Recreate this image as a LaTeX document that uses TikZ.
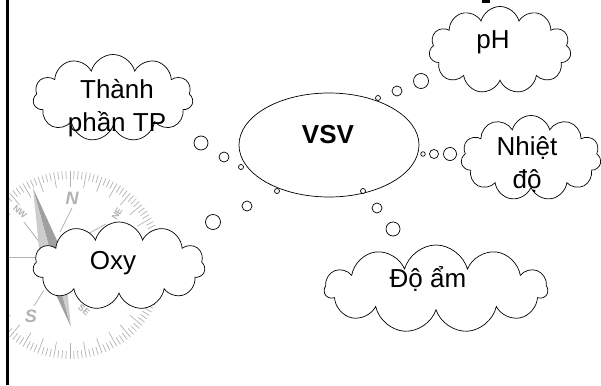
\documentclass[tikz,border=0pt]{standalone}
\usepackage{fontspec}
\setmainfont{Liberation Sans}
\usetikzlibrary{shapes.geometric,shapes.symbols}
\definecolor{rose}{RGB}{178,178,178}
\definecolor{needledark}{RGB}{160,160,160}
\definecolor{needlelight}{RGB}{205,205,205}
\newcommand{\bigtext}{\fontsize{26}{33}\selectfont}
\tikzset{
  thought/.style={cloud, cloud puffs=11, cloud ignores aspect, draw, fill=white, line width=0.7pt, inner sep=0pt},
  bubble/.style={draw, fill=white, line width=0.7pt},
  said/.style={font=\bigtext, align=center, inner sep=0pt},
  roselabel/.style={text=rose, font=\bfseries\itshape, inner sep=0pt},
}

\begin{document}
\begin{tikzpicture}[x=1pt,y=-1pt]
\useasboundingbox (0,0) rectangle (601,385);
% compass in the background
\begin{scope}
  \clip (8,0) rectangle (601,385);
  \foreach \a [count=\i] in {0,2.5,...,357.5}{
    \pgfmathsetmacro\len{ifthenelse(mod(\i,4)==1,16,8)}
    \draw[rose, line width=0.7pt] (70,265) ++(\a:94) -- ++(\a:-\len);
  }
  \draw[rose, line width=0.8pt] (37,257) -- (8,257);
  \draw[rose, line width=0.8pt] (40,243) -- (24,222);
  \draw[rose, line width=0.8pt] (60,232) -- (72,208);
  \draw[rose, line width=0.8pt] (66,246) -- (106,224);
  \draw[rose, line width=0.8pt] (44,290) -- (34,306);
  \fill[needledark] (33,188) -- (52,258) -- (63.6,254.9) -- cycle;
  \fill[needlelight] (33,188) -- (52,258) -- (40.4,261.1) -- cycle;
  \fill[needledark] (71,327) -- (52,258) -- (40.4,261.1) -- cycle;
  \fill[needlelight] (71,327) -- (52,258) -- (63.6,254.9) -- cycle;
  \node[roselabel, font=\fontsize{18}{18}\selectfont\bfseries\itshape] (north) at (72,198) {N};
  \node[roselabel, font=\fontsize{18}{18}\selectfont\bfseries\itshape] (south) at (31,316) {S};
  \node[roselabel, font=\fontsize{9}{9}\selectfont\bfseries, rotate=-40] (nw) at (20,212) {NW};
  \node[roselabel, font=\fontsize{9}{9}\selectfont\bfseries, rotate=60] (ne) at (117,214) {NE};
  \node[roselabel, font=\fontsize{9}{9}\selectfont\bfseries, rotate=-40] (se) at (84,310) {SE};
\end{scope}
\draw[line width=2.5pt] (7.5,0) -- (7.5,385);
\fill (482,0) rectangle (490,3.5);

% centre and the thought clouds
\node[draw, ellipse, line width=0.7pt, minimum width=180pt, minimum height=104pt, inner sep=0pt] (vsv) at (329,145) {};
\node[said, font=\bigtext\bfseries] (vsvlabel) at (328,135) {VSV};

\node[thought, minimum width=160pt, minimum height=87pt] (tpcloud) at (113,98) {};
\node[said] (tp) at (117,108) {Thành\\phần TP};
\node[thought, minimum width=142pt, minimum height=87pt] (phcloud) at (500,50) {};
\node[said] (ph) at (493,42) {pH};
\node[thought, minimum width=140pt, minimum height=85pt] (tempcloud) at (531,158) {};
\node[said] (temp) at (527,165) {Nhiệt\\độ};
\node[thought, minimum width=172pt, minimum height=88pt] (oxycloud) at (119,266) {};
\node[said] (oxy) at (113,263) {Oxy};
\node[thought, minimum width=223pt, minimum height=88pt] (humcloud) at (436,289) {};
\node[said] (hum) at (428,279) {Độ ẩm};

% bubbles leading out of the ellipse
\foreach \x/\y/\r in {378/98/2.5, 397/91/5, 421/81/7.5,
                      423/154/2.3, 434/154/4.5, 450/154/6.5,
                      241/167/2.5, 224/157/5, 201/143/7,
                      277/191/2.5, 247/206/5, 213/222/7.5,
                      363/191/2.5, 377/208/5, 393/229/7}
  \draw[bubble] (\x,\y) circle (\r pt);
\end{tikzpicture}
\end{document}
